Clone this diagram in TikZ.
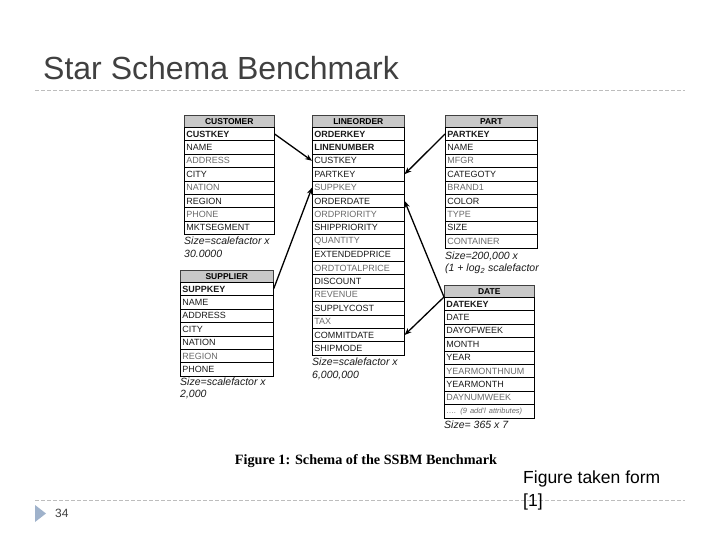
\documentclass[tikz,border=0pt]{standalone}
\usepackage{fontspec}
\setmainfont{Liberation Sans}
\newfontfamily\capfont{Liberation Serif}
\usetikzlibrary{arrows.meta,calc}
\definecolor{titlegray}{HTML}{404040}
\definecolor{dashgray}{HTML}{BDBDBD}
\definecolor{hdrgray}{HTML}{C8C8C8}
\definecolor{rowtext}{HTML}{1A1A1A}
\definecolor{fadegray}{HTML}{6A6A6A}
\definecolor{tribluegray}{HTML}{9FB2CB}
\newcommand\fd[1]{{\color{fadegray}#1}}
\newcommand\dbtable[6]{%
  \node[hdr, minimum width=#4pt, anchor=north west] (#1-0) at (#2,#3) {#5};
  \pgfmathsetmacro\tabtw{#4-4}
  \foreach \r [count=\i] in {#6}{
    \pgfmathsetmacro\tabyy{#3+12+(\i-1)*13.4}
    \node[rowbox, minimum width=#4pt, text width=\tabtw pt, anchor=north west] (#1-\i) at (#2,\tabyy) {\r};
  }%
}
\tikzset{
  hdr/.style={draw=black!75, line width=0.6pt, fill=hdrgray, minimum height=12pt, inner sep=0pt,
    font=\bfseries\fontsize{8.5}{10}\selectfont},
  rowbox/.style={draw=black, line width=0.6pt, minimum height=13.4pt, inner xsep=2pt, inner ysep=0pt,
    align=left, font=\fontsize{9}{10}\selectfont, text=rowtext},
  sizenote/.style={anchor=west, inner sep=0pt, font=\itshape\fontsize{10.5}{13}\selectfont, text=rowtext},
  fk/.style={-{Stealth[length=7pt,width=5.5pt]}, line width=1.3pt},
  rule/.style={draw=dashgray, line width=0.8pt, dash pattern=on 4pt off 2pt},
}
\begin{document}
\begin{tikzpicture}[x=1pt,y=-1pt]
\useasboundingbox (0,0) rectangle (720,540);
% title and rules
\node[anchor=base west, inner sep=0pt, text=titlegray, font=\fontsize{32}{36}\selectfont] (title) at (43,80) {Star Schema Benchmark};
\draw[rule] (35,90) -- (685,90);
\draw[rule] (35,500) -- (685,500);
% tables
\dbtable{cust}{184}{115}{90}{CUSTOMER}{{\bfseries CUSTKEY},NAME,\fd{ADDRESS},CITY,\fd{NATION},REGION,\fd{PHONE},MKTSEGMENT}
\dbtable{line}{312}{115}{92}{LINEORDER}{{\bfseries ORDERKEY},{\bfseries LINENUMBER},CUSTKEY,PARTKEY,\fd{SUPPKEY},ORDERDATE,\fd{ORDPRIORITY},SHIPPRIORITY,\fd{QUANTITY},EXTENDEDPRICE,\fd{ORDTOTALPRICE},DISCOUNT,\fd{REVENUE},SUPPLYCOST,\fd{TAX},COMMITDATE,SHIPMODE}
\dbtable{part}{445}{115}{92}{PART}{{\bfseries PARTKEY},NAME,\fd{MFGR},CATEGOTY,\fd{BRAND1},COLOR,\fd{TYPE},SIZE,\fd{CONTAINER}}
\dbtable{supp}{180}{270}{93}{SUPPLIER}{{\bfseries SUPPKEY},NAME,ADDRESS,CITY,NATION,\fd{REGION},PHONE}
\dbtable{date}{444}{285}{90}{DATE}{{\bfseries DATEKEY},DATE,DAYOFWEEK,MONTH,YEAR,\fd{YEARMONTHNUM},YEARMONTH,\fd{DAYNUMWEEK},{\fontsize{7.5}{9}\selectfont\fd{\dots. \itshape(9 add'l attributes)}}}
% size notes
\node[sizenote] (custsz1) at (184,241) {Size=scalefactor x};
\node[sizenote] (custsz2) at (184,254) {30.0000};
\node[sizenote] (linesz1) at (312,362) {Size=scalefactor x};
\node[sizenote] (linesz2) at (312,376) {6,000,000};
\node[sizenote] (partsz1) at (445,256) {Size=200,000 x};
\node[sizenote] (partsz2) at (445,269) {(1 + log\textsubscript{2} scalefactor};
\node[sizenote] (suppsz1) at (180,382) {Size=scalefactor x};
\node[sizenote] (suppsz2) at (180,395) {2,000};
\node[sizenote] (datesz1) at (444,425) {Size= 365 x 7};
% foreign keys
\draw[fk] (cust-1.east) -- (line-3.west);
\draw[fk] (supp-1.east) -- (line-5.west);
\draw[fk] (part-1.west) -- (line-4.east);
\draw[fk] (date-1.north west) -- (line-6.east);
\draw[fk] (date-1.north west) -- (line-16.east);
% caption
\node[inner sep=0pt, font=\capfont\bfseries\fontsize{14.2}{16}\selectfont] (caption) at (366,461) {Figure 1: Schema of the SSBM Benchmark};
\node[anchor=north west, inner sep=0pt, align=left, font=\fontsize{17.5}{23}\selectfont] (source) at (523,470.5) {Figure taken form\\{}[1]};
% footer
\fill[tribluegray] (35,505) -- (46,513.5) -- (35,522) -- cycle;
\node[anchor=west, inner sep=0pt, text=titlegray, font=\fontsize{12}{14}\selectfont] (pageno) at (55,513.5) {34};
\end{tikzpicture}
\end{document}
